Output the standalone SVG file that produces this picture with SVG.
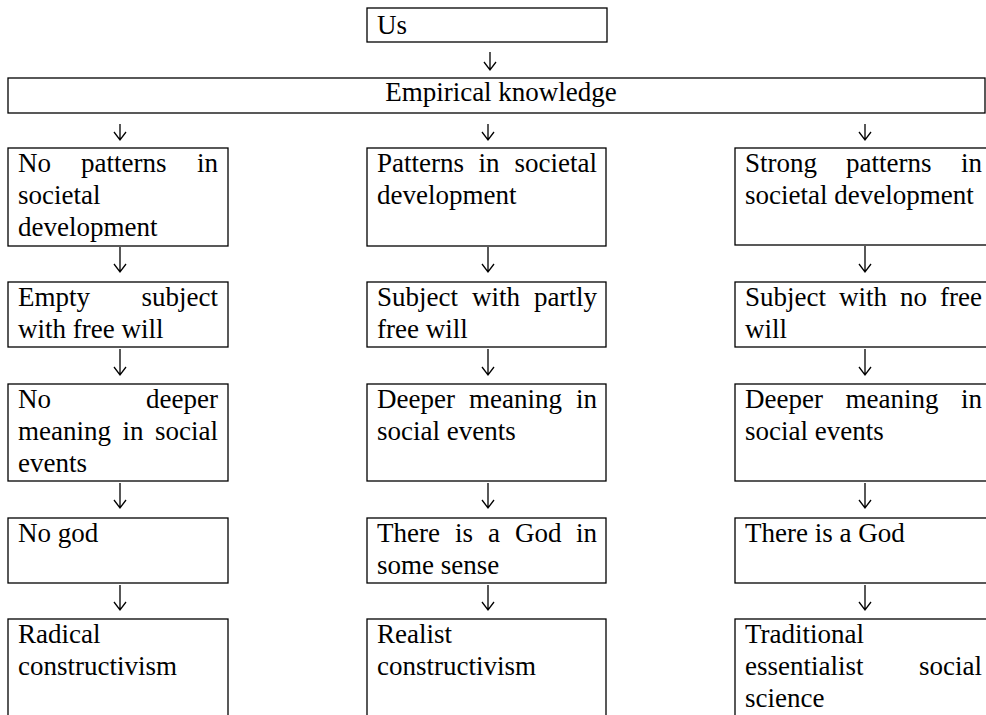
<svg xmlns="http://www.w3.org/2000/svg" width="986" height="715" viewBox="0 0 986 715">
<style>
.b{fill:#fff;stroke:#000;stroke-width:1.3}
text{font-family:"Liberation Serif","Times New Roman",serif;font-size:27px;fill:#000}
.e{text-anchor:end}
.c{text-anchor:middle}
.a{fill:none;stroke:#000;stroke-width:1.3}
</style>
<rect width="986" height="715" fill="#fff"/>
<g id="us"><rect class="b" x="367" y="8" width="240" height="34"/><text x="377" y="34">Us</text></g>
<g id="empirical"><rect class="b" x="8" y="78" width="977" height="35"/><text class="c" x="501" y="101">Empirical knowledge</text></g>

<g id="l1"><rect class="b" x="8" y="148" width="220" height="98"/>
<text y="172"><tspan x="18">No</tspan><tspan x="81">patterns</tspan></text><text class="e" x="218" y="172">in</text>
<text x="18" y="204">societal</text><text x="18" y="236">development</text></g>
<g id="l2"><rect class="b" x="8" y="282" width="220" height="65"/>
<text x="18" y="306">Empty</text><text class="e" x="218" y="306">subject</text>
<text x="18" y="338">with free will</text></g>
<g id="l3"><rect class="b" x="8" y="384" width="220" height="97"/>
<text x="18" y="408">No</text><text class="e" x="218" y="408">deeper</text>
<text y="440"><tspan x="18">meaning</tspan><tspan x="122.5">in</tspan></text><text class="e" x="218" y="440">social</text>
<text x="18" y="472">events</text></g>
<g id="l4"><rect class="b" x="8" y="518" width="220" height="65"/><text x="18" y="542">No god</text></g>
<g id="l5"><rect class="b" x="8" y="619" width="220" height="110"/>
<text x="18" y="643">Radical</text><text x="18" y="675">constructivism</text></g>

<g id="m1"><rect class="b" x="367" y="148" width="239" height="98"/>
<text y="172"><tspan x="377">Patterns</tspan><tspan x="478.5">in</tspan></text><text class="e" x="597" y="172">societal</text>
<text x="377" y="204">development</text></g>
<g id="m2"><rect class="b" x="367" y="282" width="239" height="65"/>
<text y="306"><tspan x="377">Subject</tspan><tspan x="472">with</tspan></text><text class="e" x="597" y="306">partly</text>
<text x="377" y="338">free will</text></g>
<g id="m3"><rect class="b" x="367" y="384" width="239" height="97"/>
<text y="408"><tspan x="377">Deeper</tspan><tspan x="469">meaning</tspan></text><text class="e" x="597" y="408">in</text>
<text x="377" y="440">social events</text></g>
<g id="m4"><rect class="b" x="367" y="518" width="239" height="65"/>
<text y="542"><tspan x="377">There</tspan><tspan x="455">is</tspan><tspan x="488">a</tspan><tspan x="515">God</tspan></text><text class="e" x="597" y="542">in</text>
<text x="377" y="574">some sense</text></g>
<g id="m5"><rect class="b" x="367" y="619" width="239" height="110"/>
<text x="377" y="643">Realist</text><text x="377" y="675">constructivism</text></g>

<g id="r1"><rect class="b" x="735" y="148" width="257" height="97"/>
<text y="172"><tspan x="745">Strong</tspan><tspan x="846">patterns</tspan></text><text class="e" x="982" y="172">in</text>
<text x="745" y="204">societal development</text></g>
<g id="r2"><rect class="b" x="735" y="282" width="257" height="65"/>
<text y="306"><tspan x="745">Subject</tspan><tspan x="839">with</tspan><tspan x="900">no</tspan></text><text class="e" x="982" y="306">free</text>
<text x="745" y="338">will</text></g>
<g id="r3"><rect class="b" x="735" y="384" width="257" height="97"/>
<text y="408"><tspan x="745">Deeper</tspan><tspan x="845.5">meaning</tspan></text><text class="e" x="982" y="408">in</text>
<text x="745" y="440">social events</text></g>
<g id="r4"><rect class="b" x="735" y="518" width="257" height="65"/><text x="745" y="542">There is a God</text></g>
<g id="r5"><rect class="b" x="735" y="619" width="257" height="110"/>
<text x="745" y="643">Traditional</text>
<text x="745" y="675">essentialist</text><text class="e" x="982" y="675">social</text>
<text x="745" y="707">science</text></g>

<g id="connectors" class="a">
<path d="M490 52V70M484 62L490 70L496 62"/>
<path d="M120 124V140M114 132L120 140L126 132"/>
<path d="M488 124V140M482 132L488 140L494 132"/>
<path d="M865 124V140M859 132L865 140L871 132"/>
<path d="M120 247V272M114 264L120 272L126 264"/>
<path d="M488 247V272M482 264L488 272L494 264"/>
<path d="M865 246V272M859 264L865 272L871 264"/>
<path d="M120 349V375M114 367L120 375L126 367"/>
<path d="M488 349V375M482 367L488 375L494 367"/>
<path d="M865 349V375M859 367L865 375L871 367"/>
<path d="M120 483V508M114 500L120 508L126 500"/>
<path d="M488 483V508M482 500L488 508L494 500"/>
<path d="M865 483V508M859 500L865 508L871 500"/>
<path d="M120 585V610M114 602L120 610L126 602"/>
<path d="M488 585V610M482 602L488 610L494 602"/>
<path d="M865 585V610M859 602L865 610L871 602"/>
</g>
</svg>
